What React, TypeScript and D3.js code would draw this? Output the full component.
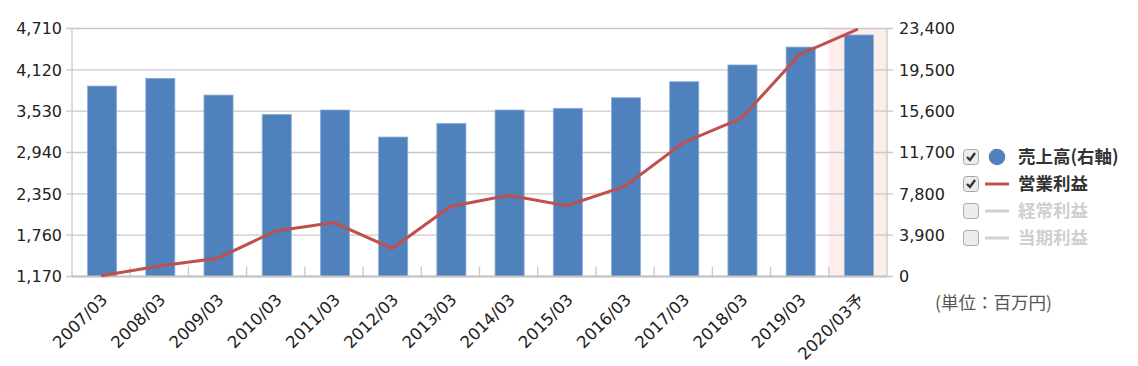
import * as d3 from "d3";
import { useEffect, useRef } from "react";

const categories = [
    "2007/03", "2008/03", "2009/03", "2010/03", "2011/03", "2012/03", "2013/03",
    "2014/03", "2015/03", "2016/03", "2017/03", "2018/03", "2019/03", "2020/03予",
];
// 売上高 (right axis, bars)
const sales = [
    17970, 18700, 17120, 15300, 15710, 13160, 14450,
    15710, 15870, 16870, 18380, 19960, 21650, 22790,
];
// 営業利益 (left axis, line)
const operatingProfit = [
    1180, 1320, 1430, 1820, 1940, 1570, 2170,
    2330, 2180, 2460, 3080, 3430, 4340, 4700,
];
const leftTicks = [1170, 1760, 2350, 2940, 3530, 4120, 4710];
const rightTicks = [0, 3900, 7800, 11700, 15600, 19500, 23400];
const legendItems = [
    { label: "売上高(右軸)", kind: "circle", checked: true },
    { label: "営業利益", kind: "line", checked: true },
    { label: "経常利益", kind: "line", checked: false },
    { label: "当期利益", kind: "line", checked: false },
];
const forecastCategory = "2020/03予";
const unitLabel = "(単位：百万円)";

const App = () => {
    const svgRef = useRef<SVGSVGElement | null>(null);

    const dimensions = { width: 1138, height: 366 };
    const margin = { top: 28.5, right: 251, bottom: 89.5, left: 72 };

    useEffect(() => {
        const svg = d3.select(svgRef.current);
        svg.selectAll("*").remove();

        const font = "'DejaVu Sans', 'Noto Sans CJK JP', sans-serif";
        const jpFont = "'Noto Sans CJK JP', sans-serif";
        const x0 = margin.left;
        const x1 = dimensions.width - margin.right;
        const yBottom = dimensions.height - margin.bottom;

        const xScale = d3.scaleBand<string>().domain(categories).range([x0, x1]).paddingInner(0).paddingOuter(0);
        const yLeft = d3.scaleLinear().domain([1170, 4710]).range([yBottom, margin.top]);
        const yRight = d3.scaleLinear().domain([0, 23400]).range([yBottom, margin.top]);
        const fmt = d3.format(",");

        // forecast highlight
        svg.append("rect")
            .attr("x", xScale(forecastCategory)!)
            .attr("y", margin.top)
            .attr("width", xScale.bandwidth())
            .attr("height", yBottom - margin.top)
            .attr("fill", "#fdeeec");

        // gridlines
        svg.append("g")
            .selectAll("line")
            .data(leftTicks)
            .join("line")
            .attr("x1", x0 - 6)
            .attr("x2", x1 + 6)
            .attr("y1", (d) => yLeft(d))
            .attr("y2", (d) => yLeft(d))
            .attr("stroke", "#c8c8c8")
            .attr("stroke-width", 1.3);

        // vertical axis lines
        [x0, x1].forEach((x) => {
            svg.append("line")
                .attr("x1", x).attr("x2", x)
                .attr("y1", margin.top).attr("y2", yBottom)
                .attr("stroke", "#c8c8c8")
                .attr("stroke-width", 1.3);
        });

        // category ticks
        svg.append("g")
            .selectAll("line")
            .data(categories.slice(1))
            .join("line")
            .attr("x1", (d) => xScale(d)!)
            .attr("x2", (d) => xScale(d)!)
            .attr("y1", yBottom - 10)
            .attr("y2", yBottom)
            .attr("stroke", "#c8c8c8")
            .attr("stroke-width", 1.3);

        // bars
        const barW = xScale.bandwidth() * 0.5;
        svg.append("g")
            .selectAll("rect")
            .data(sales)
            .join("rect")
            .attr("x", (_, i) => xScale(categories[i])! + (xScale.bandwidth() - barW) / 2 + 1)
            .attr("y", (d) => yRight(d))
            .attr("width", barW)
            .attr("height", (d) => yBottom - yRight(d))
            .attr("fill", "#4f81bd")
            .attr("stroke", "#8fb0d8")
            .attr("stroke-width", 0.8);

        // bottom axis line
        svg.append("line")
            .attr("x1", x0).attr("x2", x1)
            .attr("y1", yBottom).attr("y2", yBottom)
            .attr("stroke", "#c4c4c4")
            .attr("stroke-width", 2);

        // line
        const line = d3
            .line<number>()
            .x((_, i) => xScale(categories[i])! + xScale.bandwidth() / 2)
            .y((d) => yLeft(d));
        svg.append("path")
            .datum(operatingProfit)
            .attr("d", line)
            .attr("fill", "none")
            .attr("stroke", "#c0504d")
            .attr("stroke-width", 3);

        // left tick labels
        svg.append("g")
            .selectAll("text")
            .data(leftTicks)
            .join("text")
            .attr("x", x0 - 10)
            .attr("y", (d) => yLeft(d))
            .attr("dy", "0.36em")
            .attr("text-anchor", "end")
            .attr("font-family", font)
            .attr("font-size", 16)
            .attr("fill", "#222")
            .text((d) => fmt(d));

        // right tick labels
        svg.append("g")
            .selectAll("text")
            .data(rightTicks)
            .join("text")
            .attr("x", x1 + 12)
            .attr("y", (d) => yRight(d))
            .attr("dy", "0.36em")
            .attr("text-anchor", "start")
            .attr("font-family", font)
            .attr("font-size", 16)
            .attr("fill", "#222")
            .text((d) => d === 0 ? "0" : fmt(d));

        // category labels
        svg.append("g")
            .selectAll("text")
            .data(categories)
            .join("text")
            .attr("transform", (d) => `translate(${xScale(d)! + xScale.bandwidth() / 2 + 3},${yBottom + 20}) rotate(-45)`)
            .attr("text-anchor", "end")
            .attr("dy", "0.36em")
            .attr("font-family", font)
            .attr("font-size", 16.5)
            .attr("fill", "#222")
            .text((d) => d);

        // legend
        const legend = svg.append("g").attr("transform", "translate(963, 157)");
        const rows = legend.selectAll("g")
            .data(legendItems)
            .join("g")
            .attr("transform", (_, i) => `translate(0, ${i * 27})`);

        rows.append("rect")
            .attr("x", 0.5).attr("y", -7.5)
            .attr("width", 15).attr("height", 15)
            .attr("rx", 3)
            .attr("fill", "#ececec")
            .attr("stroke", "#a8a8a8");
        rows.filter((d) => d.checked)
            .append("path")
            .attr("d", "M4,8 L7,11 L12,4")
            .attr("transform", "translate(0,-8)")
            .attr("fill", "none")
            .attr("stroke", "#333")
            .attr("stroke-width", 2.4);
        rows.filter((d) => d.kind === "circle")
            .append("circle")
            .attr("cx", 34).attr("cy", 0).attr("r", 8.3)
            .attr("fill", "#4f81bd");
        rows.filter((d) => d.kind === "line")
            .append("line")
            .attr("x1", 22).attr("x2", 46)
            .attr("y1", 0).attr("y2", 0)
            .attr("stroke", (d) => (d.checked ? "#c0504d" : "#d0d0d0"))
            .attr("stroke-width", 3);
        rows.append("text")
            .attr("x", 55).attr("y", 0)
            .attr("dy", "0.36em")
            .attr("font-family", jpFont)
            .attr("font-weight", "bold")
            .attr("font-size", 17.5)
            .attr("fill", (d) => (d.checked ? "#333" : "#cfcfcf"))
            .text((d) => d.label);

        svg.append("text")
            .attr("x", 935).attr("y", 303)
            .attr("dy", "0.36em")
            .attr("font-family", jpFont)
            .attr("font-size", 17.5)
            .attr("fill", "#555")
            .text(unitLabel);
    }, []);

    return (
        <svg
            ref={svgRef}
            width={dimensions.width}
            height={dimensions.height}
            style={{ position: "absolute", left: 0, top: 0, background: "#fff" }}
        />
    );
};

export default App;
